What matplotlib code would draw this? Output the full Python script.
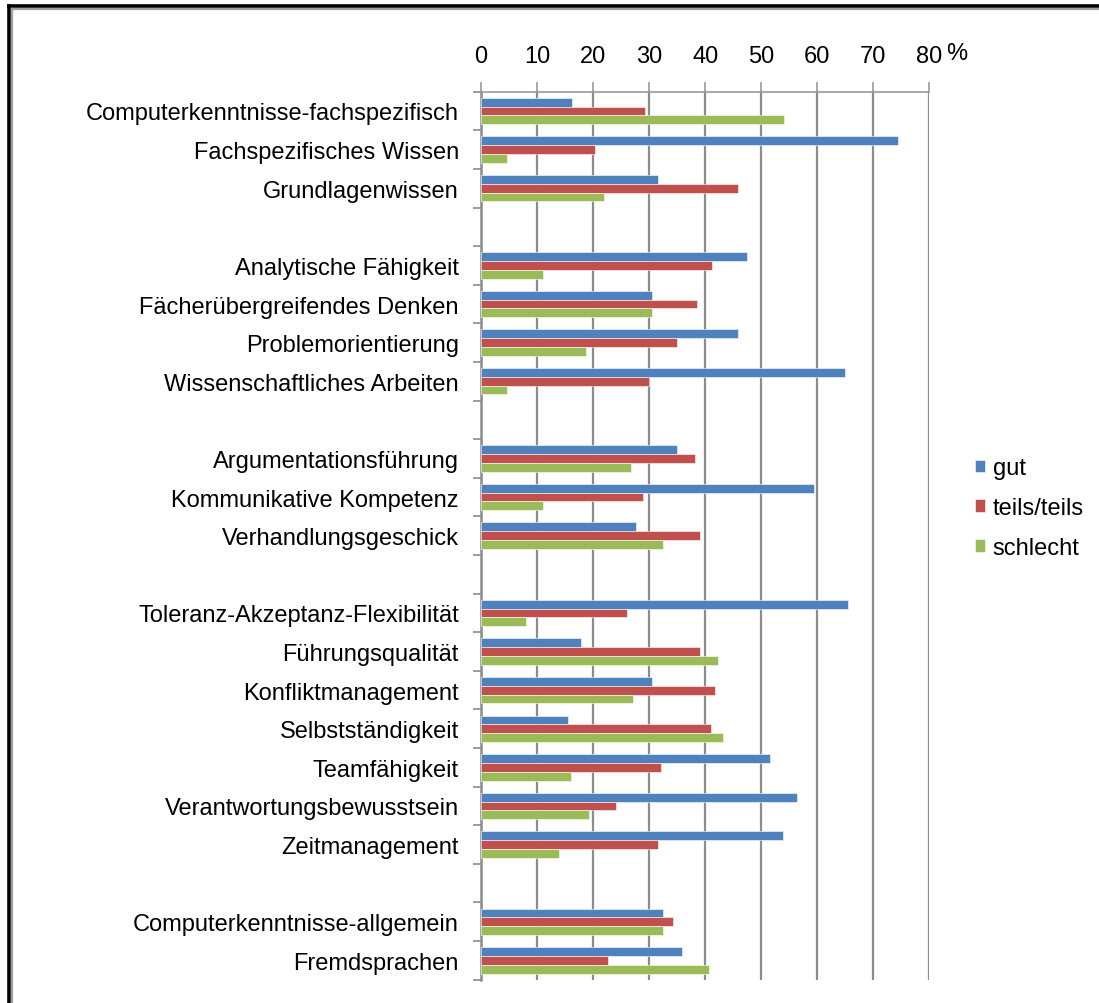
import matplotlib
matplotlib.use("Agg")
import matplotlib.pyplot as plt
from matplotlib.lines import Line2D
from matplotlib.patches import Patch
from matplotlib.ticker import FixedLocator, NullFormatter

plt.rcParams["font.family"] = ["Liberation Sans", "DejaVu Sans"]

# Rating shares in percent; empty strings mark spacer rows between the groups
categories = [
    "Computerkenntnisse-fachspezifisch", "Fachspezifisches Wissen", "Grundlagenwissen", "",
    "Analytische Fähigkeit", "Fächerübergreifendes Denken", "Problemorientierung",
    "Wissenschaftliches Arbeiten", "",
    "Argumentationsführung", "Kommunikative Kompetenz", "Verhandlungsgeschick", "",
    "Toleranz-Akzeptanz-Flexibilität", "Führungsqualität", "Konfliktmanagement",
    "Selbstständigkeit", "Teamfähigkeit", "Verantwortungsbewusstsein", "Zeitmanagement", "",
    "Computerkenntnisse-allgemein", "Fremdsprachen",
]
gut = [16.3, 74.4, 31.6, None,
       47.4, 30.5, 45.8, 65.0, None,
       34.9, 59.5, 27.7, None,
       65.4, 17.9, 30.5, 15.6, 51.5, 56.3, 53.8, None,
       32.5, 35.9]
teils = [29.3, 20.4, 45.8, None,
         41.2, 38.5, 34.9, 30.0, None,
         38.1, 28.9, 39.1, None,
         26.1, 39.1, 41.7, 41.0, 32.1, 24.1, 31.6, None,
         34.3, 22.7]
schlecht = [54.0, 4.6, 22.0, None,
            11.0, 30.5, 18.8, 4.6, None,
            26.8, 11.0, 32.5, None,
            8.0, 42.3, 27.2, 43.1, 16.1, 19.3, 14.0, None,
            32.5, 40.7]
series_labels = ["gut", "teils/teils", "schlecht"]
colours = ["#4F81BD", "#C0504D", "#9BBB59"]
x_ticks = [0, 10, 20, 30, 40, 50, 60, 70, 80]

fig = plt.figure(figsize=(10.99, 10.04), dpi=100)
ax = fig.add_axes([0.4377, 0.0232, 0.8456 - 0.4377, 0.9077 - 0.0232])

bar_h = 0.228
offsets = [-bar_h, 0.0, bar_h]
for values, off, col in zip([gut, teils, schlecht], offsets, colours):
    ys = [i + off for i, v in enumerate(values) if v is not None]
    vs = [v for v in values if v is not None]
    ax.barh(ys, vs, height=bar_h, color=col, edgecolor="white",
            linewidth=0.4, zorder=3)

n = len(categories)
ax.set_ylim(n - 0.5, -0.5)
ax.set_xlim(0, 80)

# x axis on top with vertical gridlines
ax.xaxis.tick_top()
ax.set_xticks(x_ticks)
ax.set_xticklabels([str(t) for t in x_ticks], fontsize=17)
ax.tick_params(axis="x", direction="out", length=7, width=1.2,
               color="#999999", pad=11)
ax.grid(axis="x", color="#8c8c8c", linewidth=1.6, zorder=0)
fig.text(946 / 1099, 1 - 54 / 1004, "%", fontsize=17, ha="left", va="center")

# category labels between small boundary ticks on the left spine
ax.yaxis.set_major_locator(FixedLocator([i - 0.5 for i in range(n + 1)]))
ax.yaxis.set_major_formatter(NullFormatter())
ax.yaxis.set_minor_locator(FixedLocator(list(range(n))))
ax.set_yticklabels(categories, minor=True, fontsize=17)
ax.tick_params(axis="y", which="major", direction="out", length=6,
               width=1.2, color="#8c8c8c")
ax.tick_params(axis="y", which="minor", length=0, pad=16)

for side in ["right", "bottom"]:
    ax.spines[side].set_visible(False)
ax.spines["left"].set_color("#8c8c8c")
ax.spines["left"].set_linewidth(1.8)
ax.spines["top"].set_color("#999999")
ax.spines["top"].set_linewidth(1.2)

handles = [Patch(facecolor=c, edgecolor="white", linewidth=0.4, label=l)
           for c, l in zip(colours, series_labels)]
fig.legend(handles=handles, loc="center left",
           bbox_to_anchor=(963 / 1099, 1 - 509 / 1004), frameon=False,
           fontsize=17, handlelength=0.45, handleheight=0.45,
           handletextpad=0.3, labelspacing=0.75, borderpad=0)

# frame on the left and top edges
fig.add_artist(Line2D([9 / 1099, 9 / 1099], [0, 1 - 7 / 1004],
                      transform=fig.transFigure, color="black", linewidth=2.6))
fig.add_artist(Line2D([9 / 1099, 1], [1 - 7 / 1004, 1 - 7 / 1004],
                      transform=fig.transFigure, color="black", linewidth=2.6))
fig.add_artist(Line2D([11.5 / 1099, 11.5 / 1099], [0, 1 - 9.6 / 1004],
                      transform=fig.transFigure, color="#a0a0a0", linewidth=1.6))
fig.add_artist(Line2D([11.5 / 1099, 1], [1 - 9.6 / 1004, 1 - 9.6 / 1004],
                      transform=fig.transFigure, color="#a0a0a0", linewidth=1.6))

fig.savefig("out.png", dpi=100)
